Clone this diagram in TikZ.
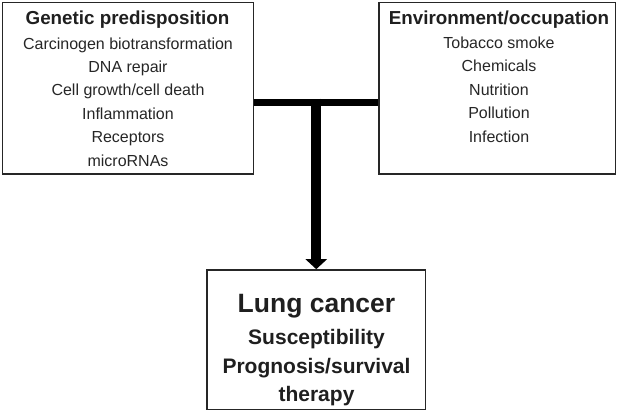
\documentclass[tikz,border=0pt]{standalone}
\usepackage{fontspec}
\setmainfont{Liberation Sans}
\usetikzlibrary{arrows.meta}
\tikzset{
  box/.style={draw=black!85, line width=1.6pt, inner sep=0pt},
  head/.style={font=\fontsize{18.8}{20}\selectfont\bfseries, text=black!88, anchor=base, inner sep=0pt},
  item/.style={font=\fontsize{16}{18}\selectfont, text=black!85, anchor=base, inner sep=0pt},
  big/.style={font=\fontsize{26.5}{28}\selectfont\bfseries, text=black!88, anchor=base, inner sep=0pt},
  sub/.style={font=\fontsize{21}{23}\selectfont\bfseries, text=black!88, anchor=base, inner sep=0pt},
  bar/.style={line width=7pt, black},
}
\begin{document}
\begin{tikzpicture}[x=1pt, y=-1pt]
\useasboundingbox (0,0) rectangle (618,412);
% the three boxes
\node[box, minimum width=251pt, minimum height=171.5pt] (gen) at (128,88.25) {};
\node[box, minimum width=236.5pt, minimum height=171.5pt] (env) at (497.25,88.25) {};
\node[box, minimum width=218.5pt, minimum height=139.5pt] (lung) at (316.25,339.75) {};

% texts
\node[head] (genhead) at (127.5,25) {Genetic predisposition};
\foreach \t [count=\i from 0] in {Carcinogen biotransformation, DNA repair,
    Cell growth/cell death, Inflammation, Receptors, microRNAs}
  \node[item] (gen-\i) at (128,49+23.4*\i) {\t};

\node[head] (envhead) at (499,25) {Environment/occupation};
\foreach \t [count=\i from 0] in {Tobacco smoke, Chemicals, Nutrition, Pollution, Infection}
  \node[item] (env-\i) at (499,48.5+23.4*\i) {\t};

\node[big] (lunghead) at (316.5,312) {Lung cancer};
\node[sub] (lung-0) at (316.5,344.5) {Susceptibility};
\node[sub] (lung-1) at (316.5,373) {Prognosis/survival};
\node[sub] (lung-2) at (316.5,401) {therapy};

% connectors
\coordinate (join) at (316.25,98.5);
\draw[bar] ([yshift=-13.75pt]gen.east) -- ([yshift=-13.75pt]env.west);
\draw[bar, line width=10pt, -{Triangle[width=21pt, length=10pt]}] (join) -- (lung.north);

\end{tikzpicture}
\end{document}
